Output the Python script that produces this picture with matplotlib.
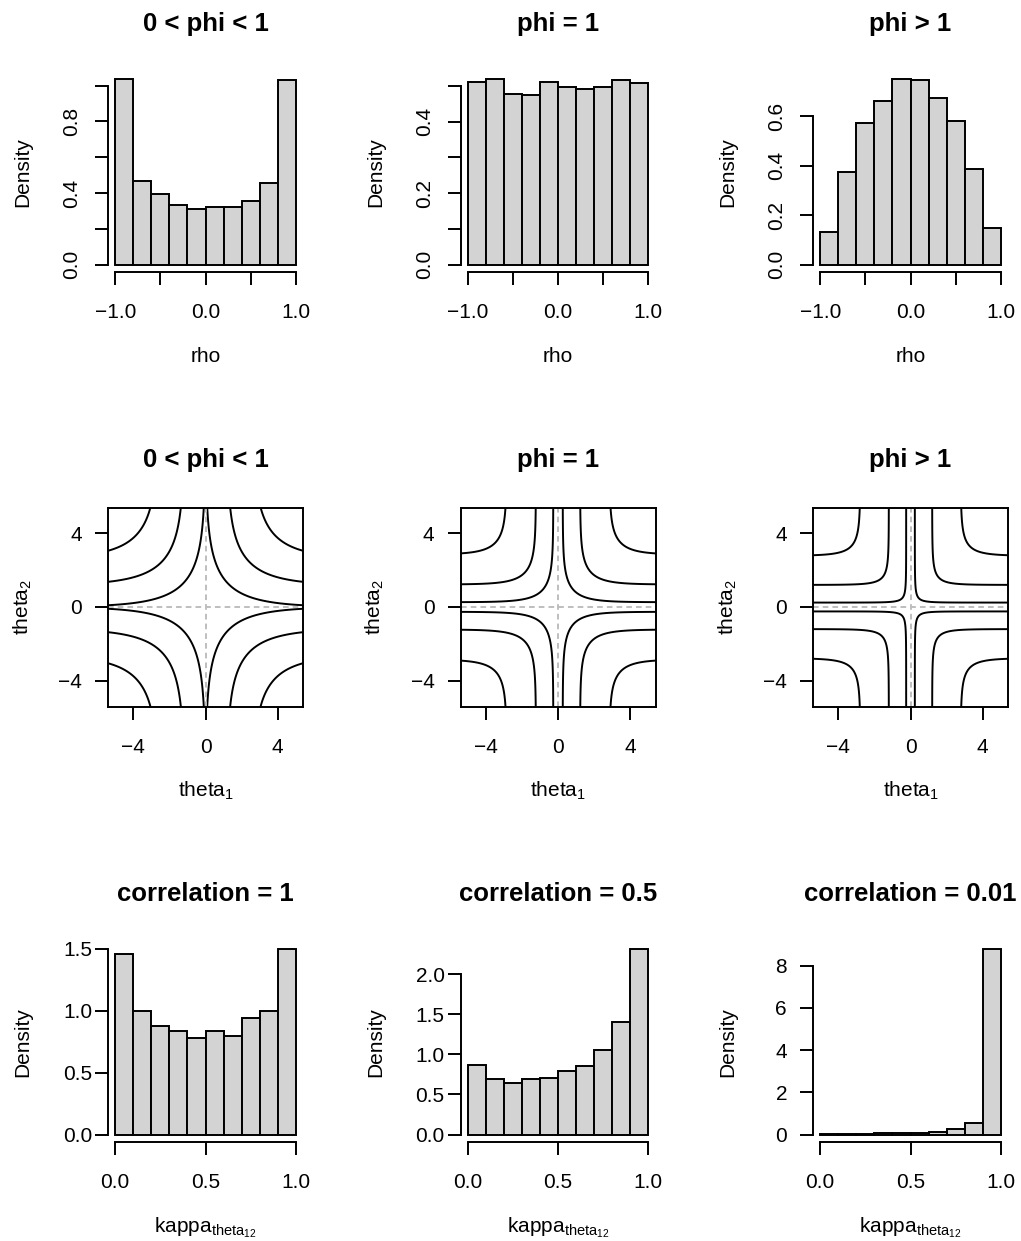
import numpy as np
import matplotlib
matplotlib.use("Agg")
import matplotlib.pyplot as plt
from matplotlib.transforms import blended_transform_factory, ScaledTranslation

plt.rcParams["font.family"] = ["Liberation Sans", "DejaVu Sans"]
plt.rcParams["mathtext.fontset"] = "custom"
plt.rcParams["mathtext.rm"] = "Liberation Sans"
plt.rcParams["mathtext.it"] = "Liberation Sans"
plt.rcParams["mathtext.bf"] = "Liberation Sans:bold"

W, H, DPI = 1021, 1241, 100
MINUS = "\u2212"

# --- top row: histograms of rho for three values of phi ---
rho_breaks = [-1.0, -0.8, -0.6, -0.4, -0.2, 0.0, 0.2, 0.4, 0.6, 0.8, 1.0]
rho_dens_phi_small = [1.035, 0.467, 0.393, 0.331, 0.312, 0.323, 0.321, 0.355, 0.456, 1.032]
rho_dens_phi_one = [0.512, 0.518, 0.478, 0.473, 0.510, 0.498, 0.491, 0.496, 0.515, 0.508]
rho_dens_phi_big = [0.131, 0.375, 0.574, 0.662, 0.750, 0.746, 0.676, 0.581, 0.389, 0.148]

# --- middle row: level curves of exp(-a|theta1|^b) + exp(-a|theta2|^b) ---
contour_rate = [0.55, 1.1, 3.24]
contour_power = [1.0, 1.0, 0.63]
contour_levels = [[0.238, 0.523, 1.0],
                  [0.0434, 0.26, 0.75],
                  [2.09e-3, 0.02641, 0.2674]]

# --- bottom row: histograms of kappa for three correlations ---
kappa_breaks = [0.0, 0.1, 0.2, 0.3, 0.4, 0.5, 0.6, 0.7, 0.8, 0.9, 1.0]
kappa_dens_c1 = [1.459, 0.998, 0.879, 0.836, 0.782, 0.836, 0.793, 0.939, 1.001, 1.494]
kappa_dens_c05 = [0.871, 0.696, 0.646, 0.688, 0.704, 0.796, 0.858, 1.050, 1.408, 2.308]
kappa_dens_c001 = [0.04, 0.03, 0.05, 0.06, 0.09, 0.08, 0.12, 0.25, 0.57, 8.77]

titles = [["0 < phi < 1", "phi = 1", "phi > 1"],
          ["0 < phi < 1", "phi = 1", "phi > 1"],
          ["correlation = 1", "correlation = 0.5", "correlation = 0.01"]]

rho_xticks = [-1.0, -0.5, 0.0, 0.5, 1.0]
rho_xlabels = {-1.0: MINUS + "1.0", 0.0: "0.0", 1.0: "1.0"}
rho_yticks = [[0.0, 0.2, 0.4, 0.6, 0.8, 1.0], [0.0, 0.1, 0.2, 0.3, 0.4, 0.5], [0.0, 0.2, 0.4, 0.6]]
rho_ylabels = [{0.0: "0.0", 0.4: "0.4", 0.8: "0.8"},
               {0.0: "0.0", 0.2: "0.2", 0.4: "0.4"},
               {0.0: "0.0", 0.2: "0.2", 0.4: "0.4", 0.6: "0.6"}]
theta_ticks = [-4, 0, 4]
theta_labels = [MINUS + "4", "0", "4"]
kappa_xticks = [0.0, 0.5, 1.0]
kappa_xlabels = ["0.0", "0.5", "1.0"]
kappa_yticks = [[0.0, 0.5, 1.0, 1.5], [0.0, 0.5, 1.0, 1.5, 2.0], [0, 2, 4, 6, 8]]
kappa_ylabels = [["0.0", "0.5", "1.0", "1.5"], ["0.0", "0.5", "1.0", "1.5", "2.0"],
                 ["0", "2", "4", "6", "8"]]
kappa_ylab_gap = [16, 16, 26]

LW = 1.4
TICK_FS = 15
TITLE_FS = 18.5
BAR_COLOR = "#D3D3D3"

fig = plt.figure(figsize=(W / DPI, H / DPI), dpi=DPI)

col_left = [108, 460.5, 813]
row_top = [72, 507.5, 942]
row_h = [200, 199, 200]
panel_w = 195


def add_panel(r, c):
    left, top, h = col_left[c], row_top[r], row_h[r]
    return fig.add_axes([left / W, 1 - (top + h) / H, panel_w / W, h / H])


def shift(dx, dy):
    # pixel offset, dy positive downwards
    return ScaledTranslation(dx / DPI, -dy / DPI, fig.dpi_scale_trans)


def decorate(ax, title, xlabel, ylabel):
    tx = ax.transAxes
    ax.text(0.5, 1, title, transform=tx + shift(0, -41), ha="center", va="baseline",
            fontsize=TITLE_FS, fontweight="bold")
    ax.text(0.5, 0, xlabel, transform=tx + shift(0, 90), ha="center", va="baseline",
            fontsize=TICK_FS)
    ax.text(0, 0.5, ylabel, transform=tx + shift(-79.7, 0), ha="center", va="baseline",
            rotation=90, rotation_mode="anchor", fontsize=TICK_FS)


def r_axes(ax, xticks, yticks, box=False):
    for side in ("top", "right"):
        ax.spines[side].set_visible(box)
    for sp in ax.spines.values():
        sp.set_linewidth(LW)
    if not box:
        ax.spines["bottom"].set_bounds(xticks[0], xticks[-1])
        ax.spines["left"].set_bounds(yticks[0], yticks[-1])
    ax.set_xticks(xticks)
    ax.set_yticks(yticks)
    ax.tick_params(direction="out", length=9.4, width=LW, labelbottom=False, labelleft=False)


def x_ticklabels(ax, ticks, labels):
    tr = blended_transform_factory(ax.transData, ax.transAxes) + shift(0, 46)
    for v, s in zip(ticks, labels):
        ax.text(v, 0, s, transform=tr, ha="center", va="baseline", fontsize=TICK_FS)


def y_ticklabels_flat(ax, ticks, labels, gap):
    tr = blended_transform_factory(ax.transAxes, ax.transData) + shift(-gap, 7.4)
    for v, s in zip(ticks, labels):
        ax.text(0, v, s, transform=tr, ha="right", va="baseline", fontsize=TICK_FS)


def histogram(ax, breaks, dens):
    top = max(dens)
    ax.bar(breaks[:-1], dens, width=np.diff(breaks), align="edge", color=BAR_COLOR,
           edgecolor="black", linewidth=LW)
    span = breaks[-1] - breaks[0]
    ax.set_xlim(breaks[0] - 0.04 * span, breaks[-1] + 0.04 * span)
    ax.set_ylim(-0.04 * top, 1.04 * top)


# top row
for c, dens in enumerate([rho_dens_phi_small, rho_dens_phi_one, rho_dens_phi_big]):
    ax = add_panel(0, c)
    histogram(ax, rho_breaks, dens)
    r_axes(ax, rho_xticks, rho_yticks[c])
    x_ticklabels(ax, list(rho_xlabels), list(rho_xlabels.values()))
    tr = blended_transform_factory(ax.transAxes, ax.transData) + shift(-30.7, 0)
    for v, s in rho_ylabels[c].items():
        ax.text(0, v, s, transform=tr, ha="center", va="baseline", rotation=90,
                rotation_mode="anchor", fontsize=TICK_FS)
    decorate(ax, titles[0][c], "rho", "Density")

# middle row
grid = np.linspace(-6, 6, 800)
T1, T2 = np.meshgrid(grid, grid)
for c in range(3):
    ax = add_panel(1, c)
    a, b = contour_rate[c], contour_power[c]
    Z = np.exp(-a * np.abs(T1) ** b) + np.exp(-a * np.abs(T2) ** b)
    ax.contour(T1, T2, Z, levels=contour_levels[c], colors="black", linewidths=LW)
    ax.axhline(0, color="#BEBEBE", lw=LW, dashes=(2.9, 2.1))
    ax.axvline(0, color="#BEBEBE", lw=LW, dashes=(2.9, 2.1))
    ax.set_xlim(-5.4, 5.4)
    ax.set_ylim(-5.4, 5.4)
    r_axes(ax, theta_ticks, theta_ticks, box=True)
    x_ticklabels(ax, theta_ticks, theta_labels)
    y_ticklabels_flat(ax, theta_ticks, theta_labels, 26)
    decorate(ax, titles[1][c], r"$\mathregular{theta_1}$", r"$\mathregular{theta_2}$")

# bottom row
for c, dens in enumerate([kappa_dens_c1, kappa_dens_c05, kappa_dens_c001]):
    ax = add_panel(2, c)
    histogram(ax, kappa_breaks, dens)
    r_axes(ax, kappa_xticks, kappa_yticks[c])
    x_ticklabels(ax, kappa_xticks, kappa_xlabels)
    y_ticklabels_flat(ax, kappa_yticks[c], kappa_ylabels[c], kappa_ylab_gap[c])
    decorate(ax, titles[2][c], r"$\mathregular{kappa_{theta_{12}}}$", "Density")

fig.savefig("out.png", dpi=DPI)
